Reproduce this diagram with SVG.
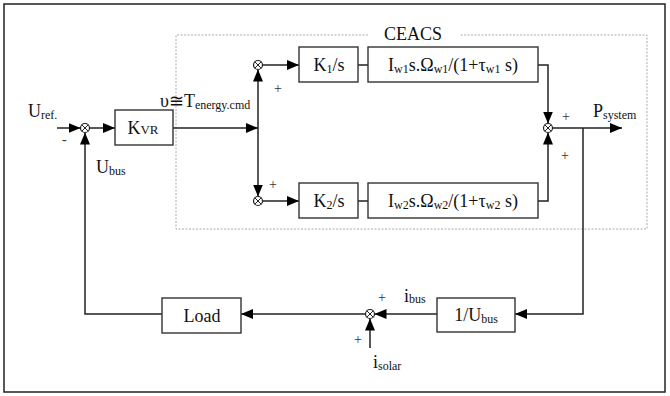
<svg xmlns="http://www.w3.org/2000/svg" width="670" height="396" viewBox="0 0 670 396">
<defs>
<marker id="ah" viewBox="0 0 12 10" refX="12" refY="5" markerWidth="12" markerHeight="10" markerUnits="userSpaceOnUse" orient="auto">
<path d="M0,0 L12,5 L0,10 Z" fill="#000"/>
</marker>
</defs>
<style>
text{font-family:"Liberation Serif","Times New Roman",serif;fill:#111;}
.t{font-size:18px;}
.s{font-size:12px;}
.box{fill:#fff;stroke:#333;stroke-width:1.4;}
.ln{fill:none;stroke:#222;stroke-width:1.5;}
.ar{fill:none;stroke:#222;stroke-width:1.5;marker-end:url(#ah);}
.sum circle{fill:#fff;stroke:#222;stroke-width:1.2;}
.sum path{stroke:#222;stroke-width:1;}
.pm{font-size:14px;fill:#333;}
</style>
<rect x="0" y="0" width="670" height="396" fill="#fff"/>
<rect x="4" y="4" width="661" height="388" fill="none" stroke="#222" stroke-width="1.5"/>
<g id="ceacs">
<path d="M368,35 L176,35 L176,229 L647,229 L647,35 L460,35" fill="none" stroke="#aaa" stroke-width="1" stroke-dasharray="2,1.5"/>
<text class="t" x="413" y="40" text-anchor="middle">CEACS</text>
</g>
<g id="connectors">
<path class="ar" d="M57,128 L80.5,128"/>
<path class="ar" d="M89.5,128 L115,128"/>
<path class="ar" d="M173,128 L258,128"/>
<path class="ar" d="M258,128 L258,69.5"/>
<path class="ar" d="M258,128 L258,196.5"/>
<path class="ar" d="M262.5,65 L299,65"/>
<path class="ln" d="M358,65 L368,65"/>
<path class="ar" d="M538,65 L548,65 L548,123.5"/>
<path class="ar" d="M262.5,201 L299,201"/>
<path class="ln" d="M358,201 L368,201"/>
<path class="ar" d="M538,201 L548,201 L548,132.5"/>
<path class="ar" d="M552.5,128 L622,128"/>
<path class="ar" d="M583,128 L583,314 L515,314"/>
<path class="ar" d="M437,314 L374.5,314"/>
<path class="ar" d="M370,348 L370,318.5"/>
<path class="ar" d="M365.5,314 L241,314"/>
<path class="ar" d="M162,314 L85,314 L85,132.5"/>
</g>
<g id="sum1" class="sum"><circle cx="85" cy="128" r="4.5"/><path d="M81.8,124.8 L88.2,131.2 M88.2,124.8 L81.8,131.2"/></g>
<g id="sum2" class="sum"><circle cx="258" cy="65" r="4.5"/><path d="M254.8,61.8 L261.2,68.2 M261.2,61.8 L254.8,68.2"/></g>
<g id="sum3" class="sum"><circle cx="258" cy="201" r="4.5"/><path d="M254.8,197.8 L261.2,204.2 M261.2,197.8 L254.8,204.2"/></g>
<g id="sum4" class="sum"><circle cx="548" cy="128" r="4.5"/><path d="M544.8,124.8 L551.2,131.2 M551.2,124.8 L544.8,131.2"/></g>
<g id="sum5" class="sum"><circle cx="370" cy="314" r="4.5"/><path d="M366.8,310.8 L373.2,317.2 M373.2,310.8 L366.8,317.2"/></g>
<g id="kvr"><rect class="box" x="115" y="110" width="58" height="35"/><text class="t" x="143" y="134" text-anchor="middle">K<tspan font-size="13">VR</tspan></text></g>
<g id="k1"><rect class="box" x="299" y="47" width="59" height="35"/><text class="t" x="329" y="71" text-anchor="middle">K<tspan class="s" dy="2">1</tspan><tspan dy="-2">/s</tspan></text></g>
<g id="iw1"><rect class="box" x="368" y="47" width="170" height="35"/><text class="t" x="453" y="71" text-anchor="middle">I<tspan class="s" dy="2">w1</tspan><tspan dy="-2">s.Ω</tspan><tspan class="s" dy="2">w1</tspan><tspan dy="-2">/(1+τ</tspan><tspan class="s" dy="2">w1</tspan><tspan dy="-2"> s)</tspan></text></g>
<g id="k2"><rect class="box" x="299" y="183" width="59" height="35"/><text class="t" x="329" y="207" text-anchor="middle">K<tspan class="s" dy="2">2</tspan><tspan dy="-2">/s</tspan></text></g>
<g id="iw2"><rect class="box" x="368" y="183" width="170" height="35"/><text class="t" x="453" y="207" text-anchor="middle">I<tspan class="s" dy="2">w2</tspan><tspan dy="-2">s.Ω</tspan><tspan class="s" dy="2">w2</tspan><tspan dy="-2">/(1+τ</tspan><tspan class="s" dy="2">w2</tspan><tspan dy="-2"> s)</tspan></text></g>
<g id="load"><rect class="box" x="162" y="298" width="79" height="35"/><text class="t" x="202" y="322" text-anchor="middle">Load</text></g>
<g id="invubus"><rect class="box" x="437" y="298" width="78" height="34"/><text class="t" x="476" y="321" text-anchor="middle">1/U<tspan class="s" dy="2">bus</tspan></text></g>
<g id="labels">
<text class="t" x="28" y="117">U<tspan class="s" dy="2">ref.</tspan></text>
<text class="pm" x="62" y="144">-</text>
<text class="t" x="96" y="173">U<tspan class="s" dy="2">bus</tspan></text>
<text class="t" x="160" y="107">υ≅T<tspan class="s" dy="2">energy.cmd</tspan></text>
<text class="pm" x="274" y="93">+</text>
<text class="pm" x="269" y="189">+</text>
<text class="pm" x="562" y="121">+</text>
<text class="pm" x="561" y="160">+</text>
<text class="t" x="593" y="117">P<tspan class="s" dy="2">system</tspan></text>
<text class="pm" x="378" y="302">+</text>
<text class="pm" x="354" y="344">+</text>
<text class="t" x="404" y="302">i<tspan class="s" dy="1">bus</tspan></text>
<text class="t" x="373" y="368">i<tspan class="s" dy="2">solar</tspan></text>
</g>
</svg>
